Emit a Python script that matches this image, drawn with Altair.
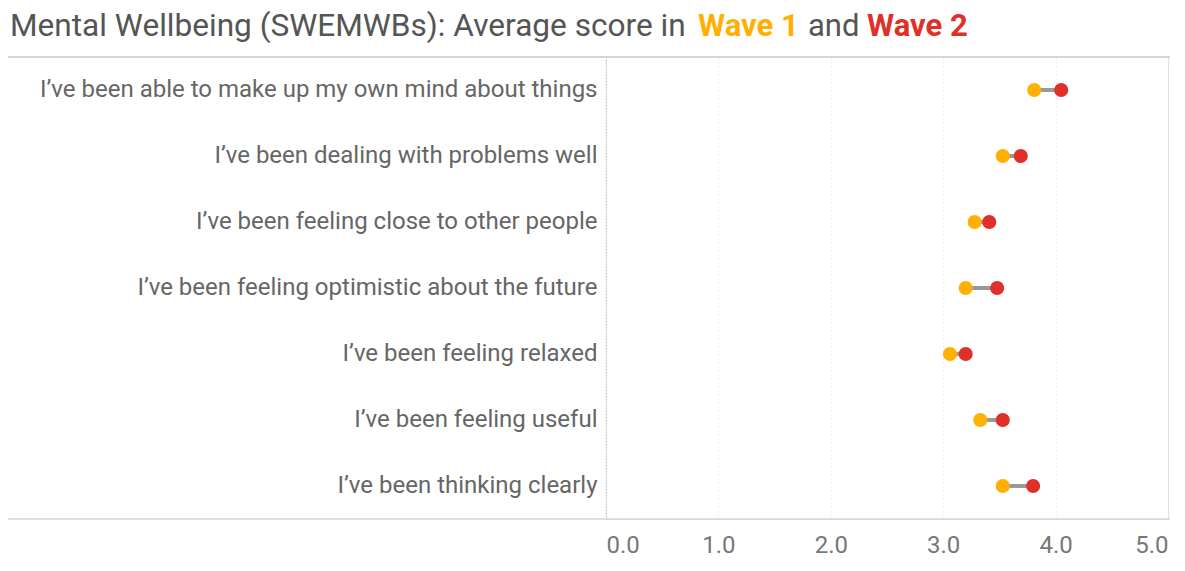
import altair as alt
import pandas as pd

categories = [
    "I\u2019ve been able to make up my own mind about things",
    "I\u2019ve been dealing with problems well",
    "I\u2019ve been feeling close to other people",
    "I\u2019ve been feeling optimistic about the future",
    "I\u2019ve been feeling relaxed",
    "I\u2019ve been feeling useful",
    "I\u2019ve been thinking clearly",
]
wave1 = [3.81, 3.53, 3.28, 3.20, 3.06, 3.33, 3.53]
wave2 = [4.05, 3.69, 3.41, 3.48, 3.20, 3.53, 3.80]
x_ticks = [0, 1, 2, 3, 4, 5]

YELLOW = "#FFB000"
RED = "#E0302A"
FONT = "Roboto"

wide = pd.DataFrame({"item": categories, "w1": wave1, "w2": wave2})
long = pd.DataFrame({
    "item": categories + categories,
    "score": wave1 + wave2,
    "wave": ["Wave 1"] * len(categories) + ["Wave 2"] * len(categories),
})

W = 562
H = 462

y_enc = alt.Y("item:N", sort=categories, title=None,
              scale=alt.Scale(paddingInner=0, paddingOuter=0),
              axis=alt.Axis(labelFont=FONT, labelFontSize=24, labelColor="#666666",
                            labelPadding=9, labelLimit=1000, ticks=False, domain=False,
                            grid=False))
x_scale = alt.Scale(domain=[0, 5], nice=False)
x_axis = alt.Axis(values=x_ticks, format=".1f", labelFont=FONT, labelFontSize=24,
                  labelColor="#777777", labelPadding=14, ticks=False, domain=False,
                  grid=True, gridColor="#dedede", gridDash=[1, 3], gridWidth=1,
                  labelFlush=True)

connector = alt.Chart(wide).mark_rule(color="#999999", strokeWidth=4).encode(
    y=y_enc,
    x=alt.X("w1:Q", scale=x_scale, axis=x_axis, title=None),
    x2="w2:Q",
)

dots = alt.Chart(long).mark_circle(size=200, opacity=1).encode(
    y=y_enc,
    x=alt.X("score:Q", scale=x_scale, axis=x_axis, title=None),
    color=alt.Color("wave:N", scale=alt.Scale(domain=["Wave 1", "Wave 2"], range=[YELLOW, RED]),
                    legend=None),
)

one = alt.Data(values=[{"k": 1}])
top_line = alt.Chart(one).mark_rule(color="#d6d6d6", strokeWidth=2).encode(
    x=alt.value(-601), x2=alt.value(2 + W), y=alt.value(0))
bottom_line = alt.Chart(one).mark_rule(color="#d6d6d6", strokeWidth=1.5).encode(
    x=alt.value(-601), x2=alt.value(2 + W), y=alt.value(H))
zero_line = alt.Chart(one).mark_rule(color="#c8c8c8", strokeWidth=1, strokeDash=[1, 2]).encode(
    x=alt.value(0), y=alt.value(0), y2=alt.value(H))

def title_piece(text, xpos, color, weight="normal", size=31):
    return alt.Chart(one).mark_text(text=text, align="left", baseline="alphabetic",
                                    font=FONT, fontSize=size, fontWeight=weight,
                                    color=color).encode(
        x=alt.value(xpos), y=alt.value(-21))

t1 = title_piece("Mental Wellbeing (SWEMWBs): Average score in", -596, "#555555", size=31.6)
t2 = title_piece("Wave 1", 92, YELLOW, "bold")
t3 = title_piece("and", 202, "#555555")
t4 = title_piece("Wave 2", 261, RED, "bold")

chart = alt.layer(zero_line, connector, dots, top_line, bottom_line, t1, t2, t3, t4).properties(
    width=W, height=H,
    autosize=alt.AutoSizeParams(type="none"),
    padding={"left": 598, "top": 49, "right": 9, "bottom": 40},
).configure_view(stroke=None).configure(background="white")

chart.save("out.html", embed_options={"renderer": "svg", "actions": False})
